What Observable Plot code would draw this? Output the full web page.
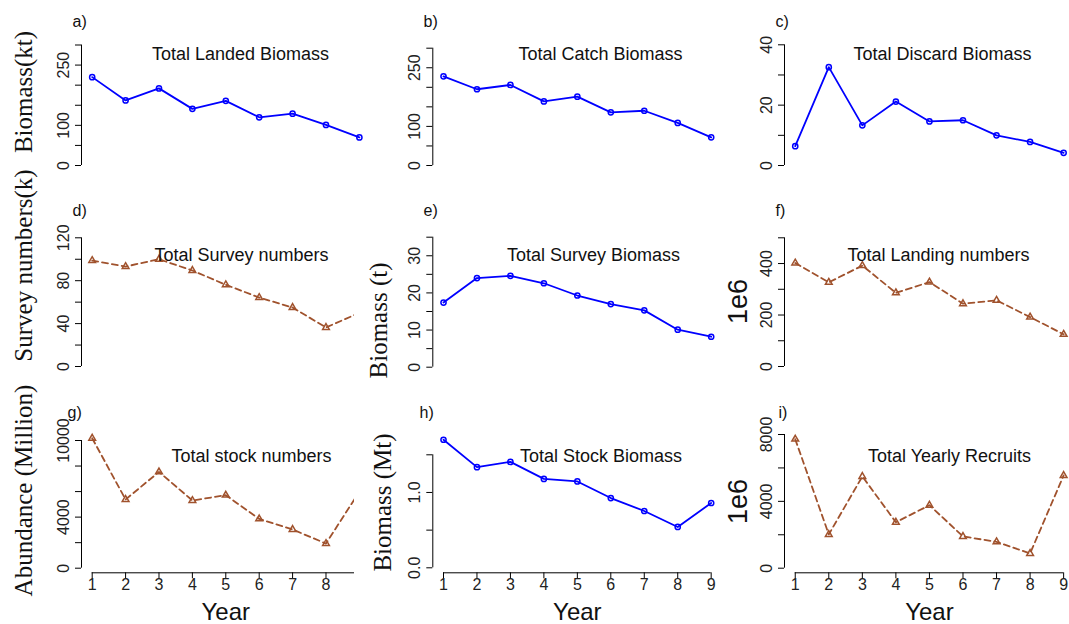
<!DOCTYPE html>
<html>
<head>
<meta charset="utf-8">
<script src="https://cdn.jsdelivr.net/npm/d3@7"></script>
<script src="https://cdn.jsdelivr.net/npm/@observablehq/plot@0.6"></script>
<style>
  html, body { margin: 0; padding: 0; background: #fff; }
  #chart { position: relative; width: 1069px; height: 624px; overflow: hidden; background: #fff; }
</style>
</head>
<body>
<div id="chart"></div>
<script>
// ---------------- data ----------------
const years = [1, 2, 3, 4, 5, 6, 7, 8, 9];
const landedBiomass   = [220, 162, 192, 141, 161, 120, 129, 101, 70];
const catchBiomass    = [228, 195, 206, 164, 176, 136, 140, 109, 72];
const discardBiomass  = [6.4, 32.6, 13.3, 21.2, 14.6, 15.0, 10.0, 7.8, 4.2];
const surveyNumbers   = [98.8, 93.2, 100, 89.5, 76.2, 64.3, 55, 36.4, 50];
const surveyBiomass   = [17.4, 24.0, 24.6, 22.6, 19.3, 17.0, 15.3, 10.1, 8.2];
const landingNumbers  = [402, 327, 392, 286, 328, 244, 257, 192, 125];
const stockNumbers    = [10180, 5380, 7540, 5300, 5720, 3860, 3030, 1930, 6000];
const stockBiomass    = [1.70, 1.336, 1.406, 1.18, 1.146, 0.926, 0.754, 0.542, 0.86];
const yearlyRecruits  = [7720, 2020, 5490, 2750, 3770, 1900, 1580, 880, 5550];

const panelLetters = ["a)", "b)", "c)", "d)", "e)", "f)", "g)", "h)", "i)"];
const panelTitles = ["Total Landed Biomass", "Total Catch Biomass", "Total Discard Biomass",
  "Total Survey numbers", "Total Survey Biomass", "Total Landing numbers",
  "Total stock numbers", "Total Stock Biomass", "Total Yearly Recruits"];
const yTitles = ["Biomass(kt)", null, null, "Survey numbers(k)", "Biomass (t)", "1e6",
  "Abundance (Million)", "Biomass (Mt)", "1e6"];
const xTitle = "Year";

const yTickSets = [
  [0, 50, 100, 150, 200, 250, 300], [0, 50, 100, 150, 200, 250, 300], [0, 10, 20, 30, 40],
  [0, 20, 40, 60, 80, 100, 120], [0, 5, 10, 15, 20, 25, 30, 35], [0, 100, 200, 300, 400, 500],
  [0, 2000, 4000, 6000, 8000, 10000], [0, 0.5, 1.0, 1.5], [0, 2000, 4000, 6000, 8000]
];
const yTickLabels = [
  ["0", "100", "250"], ["0", "100", "250"], ["0", "20", "40"],
  ["0", "40", "80", "120"], ["0", "10", "20", "30"], ["0", "200", "400"],
  ["0", "4000", "10000"], ["0.0", "1.0"], ["0", "4000", "8000"]
];

const seriesList = [landedBiomass, catchBiomass, discardBiomass, surveyNumbers, surveyBiomass,
  landingNumbers, stockNumbers, stockBiomass, yearlyRecruits];
const seriesKind = ["blue", "blue", "blue", "brown", "blue", "brown", "brown", "blue", "brown"];

// ---------------- layout / style ----------------
const W = 1069, H = 624;
const cols = [{L: 81, s: 33.4}, {L: 432.3, s: 33.46}, {L: 784, s: 33.55}];
// per panel: zero pixel, top tick pixel, clip width
const layout = [
  {zero: 165, top: 44.5}, {zero: 165, top: 47.7}, {zero: 165, top: 44.3},
  {zero: 366, top: 237.3, clip: 354}, {zero: 366.7, top: 236.7}, {zero: 366, top: 237.3},
  {zero: 567.7, top: 440, clip: 354}, {zero: 567.3, top: 454.3}, {zero: 567.7, top: 434}
];
const letterPos = [[72, 21], [423, 21], [775, 21], [72, 210], [423, 210], [775, 210], [67, 412], [419, 412], [778, 412]];
const titlePos = [[240, 54], [600, 54], [942, 54], [241, 255], [593, 255], [938, 255], [251, 456], [600.5, 456], [949, 456]];
const yTitlePos = [[23, 91.5], null, null, [23, 265], [378, 320], [738, 301], [23, 490], [382, 502], [738, 501]];
const xAxisPx = 572.3;
const styles = {
  blue: {stroke: "#0000ff", dash: null, symbol: "circle", r: 2.6},
  brown: {stroke: "#a0522d", dash: "6,4", symbol: "triangle", r: 2.5}
};
const SANS = "'Liberation Sans', Arial, Helvetica, sans-serif";
const SERIF = "'Liberation Serif', 'Times New Roman', Times, serif";

const chart = document.getElementById("chart");

for (let p = 0; p < 9; p++) {
  const col = cols[p % 3];
  const row = Math.floor(p / 3);
  const lay = layout[p];
  const ticks = yTickSets[p];
  const topTick = ticks[ticks.length - 1];
  const unitPerPx = topTick / (lay.zero - lay.top);
  const xPad = 0.04 * (d3.max(years) - d3.min(years));
  const xDomain = [d3.min(years) - xPad, d3.max(years) + xPad];
  const xRange = [col.L, col.L + (xDomain[1] - xDomain[0]) * col.s];
  const xPx = v => xRange[0] + (v - xDomain[0]) * col.s;
  const yBase = -(xAxisPx - lay.zero) * unitPerPx;
  const data = years.map((x, i) => ({x, y: seriesList[p][i]}));
  const st = styles[seriesKind[p]];
  const tickLen = 6;
  const marginLeft = col.L;
  const marginBottom = H - (row === 2 ? xAxisPx : lay.zero);
  const svgW = lay.clip ?? W;

  const labelTicks = yTickLabels[p].map(s => ({v: +s, s}));

  const marks = [
    // y axis line
    Plot.ruleX([xDomain[0]], {x: d => d, y1: 0, y2: topTick, stroke: "#000", strokeWidth: 1}),
    // y ticks
    Plot.ruleY(ticks, {y: d => d, x1: xDomain[0], x2: xDomain[0] - tickLen / col.s, stroke: "#000", strokeWidth: 1}),
    // y tick labels
    Plot.text(labelTicks, {y: "v", text: "s", frameAnchor: "left", dx: -17.5, rotate: -90,
      textAnchor: "middle", lineAnchor: "middle", fontSize: 16, fontFamily: SANS, fill: "#222"}),
    // series
    Plot.line(data, {x: "x", y: "y", stroke: st.stroke, strokeWidth: 1.8,
      strokeDasharray: st.dash ?? undefined}),
    Plot.dot(data, {x: "x", y: "y", r: st.r, symbol: st.symbol, stroke: st.stroke,
      strokeWidth: 1.5, fill: "none"}),
    // panel letter
    Plot.text([panelLetters[p]], {frameAnchor: "top-left", dx: letterPos[p][0] - marginLeft, dy: letterPos[p][1],
      textAnchor: "start", lineAnchor: "middle", fontSize: 16, fontFamily: SANS, fill: "#111"}),
    // panel title
    Plot.text([panelTitles[p]], {frameAnchor: "top-left", dx: titlePos[p][0] - marginLeft, dy: titlePos[p][1],
      textAnchor: "middle", lineAnchor: "middle", fontSize: 18, fontFamily: SANS, fill: "#111"})
  ];

  if (yTitles[p]) {
    const isNum = yTitles[p] === "1e6";
    marks.push(Plot.text([yTitles[p]], {frameAnchor: "top-left", dx: yTitlePos[p][0] - marginLeft, dy: yTitlePos[p][1],
      rotate: -90, textAnchor: "middle", lineAnchor: "middle",
      fontSize: isNum ? 27 : 25, fontFamily: isNum ? SANS : SERIF, fill: "#111"}));
  }

  if (row === 2) {
    // tick labels hidden by the neighbouring panel (clipped panels) are not drawn, as in the reference
    const visibleYears = years.filter(v => lay.clip == null || xPx(v) + 6 < lay.clip);
    marks.push(
      Plot.ruleY([yBase], {y: d => d, x1: d3.min(years), x2: d3.max(years), stroke: "#000", strokeWidth: 1}),
      Plot.ruleX(years, {x: d => d, y1: yBase, y2: yBase - tickLen * unitPerPx, stroke: "#000", strokeWidth: 1}),
      Plot.text(visibleYears, {x: d => d, y: yBase, dy: 12.4, text: d => String(d), textAnchor: "middle",
        lineAnchor: "middle", fontSize: 16, fontFamily: SANS, fill: "#222"}),
      Plot.text([xTitle], {x: d3.mean(years), y: yBase, dy: 39.5, textAnchor: "middle", lineAnchor: "middle",
        fontSize: 24, fontFamily: SANS, fill: "#111"})
    );
  }

  const svg = Plot.plot({
    width: svgW,
    height: H,
    marginLeft,
    marginRight: 0,
    marginTop: 0,
    marginBottom,
    x: {type: "linear", domain: xDomain, range: xRange, axis: null},
    y: {type: "linear", domain: [0, topTick], range: [lay.zero, lay.top], axis: null},
    style: {background: "transparent", overflow: "hidden", position: "absolute", left: "0px", top: "0px", maxWidth: "none"},
    marks
  });
  chart.appendChild(svg);
}
</script>
</body>
</html>
